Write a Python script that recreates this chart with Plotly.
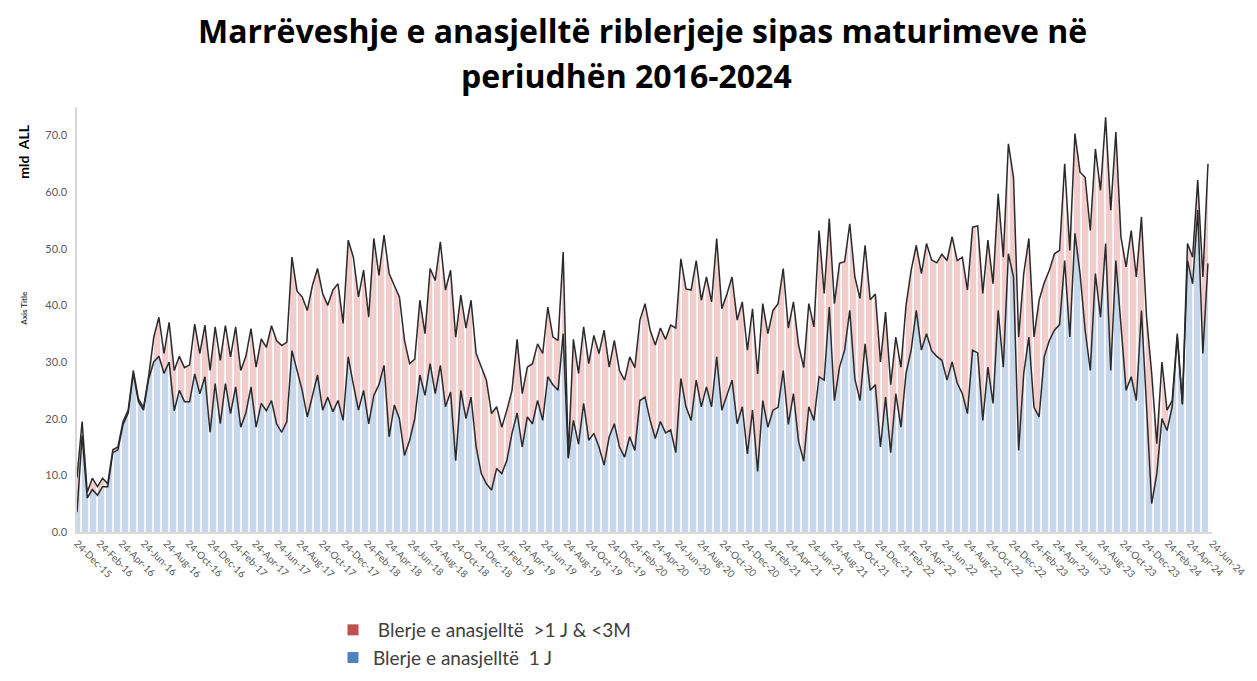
import plotly.graph_objects as go
import pandas as pd

# Biweekly observations starting 24-Dec-2015 (mld ALL)
start_date = "2015-12-24"

blue_1J = [
    3.5, 17.0, 6.0, 7.5, 6.5, 8.0, 8.0, 14.0, 14.5, 19.0,
    21.0, 28.0, 23.0, 21.5, 27.0, 30.0, 31.0, 28.0, 30.0, 21.4,
    25.0, 23.0, 23.0, 27.9, 24.4, 27.4, 17.6, 26.2, 19.1, 26.2,
    20.9, 25.6, 18.5, 21.0, 25.6, 18.5, 22.7, 21.4, 23.2, 19.1,
    17.6, 19.5, 32.0, 28.5, 25.0, 20.3, 24.0, 27.7, 21.5, 23.8,
    21.2, 23.2, 19.7, 30.9, 26.0, 21.5, 25.0, 19.1, 24.1, 26.0,
    29.4, 16.8, 22.4, 20.0, 13.5, 16.2, 20.0, 27.7, 24.1, 29.7,
    24.4, 29.4, 22.1, 24.7, 12.6, 25.0, 20.0, 23.8, 15.0, 10.3,
    8.5, 7.4, 11.2, 10.3, 12.6, 17.4, 21.0, 15.0, 20.3, 19.1,
    23.2, 19.7, 27.4, 26.0, 25.0, 35.0, 13.0, 19.7, 15.5, 22.7,
    16.2, 17.4, 15.0, 11.8, 16.8, 19.1, 15.0, 13.2, 16.8, 14.4,
    23.2, 23.8, 19.7, 16.5, 19.5, 17.5, 18.0, 14.0, 27.1, 22.1,
    19.7, 26.8, 22.1, 25.6, 22.1, 30.9, 21.5, 24.0, 26.8, 19.1,
    22.1, 13.8, 21.5, 10.7, 23.2, 18.5, 21.5, 22.0, 28.5, 19.0,
    24.4, 16.0, 12.5, 22.1, 19.7, 27.4, 26.8, 39.7, 23.2, 29.1,
    32.1, 39.1, 27.0, 23.2, 33.2, 25.0, 26.0, 15.0, 23.8, 14.0,
    24.4, 18.5, 28.0, 32.1, 39.1, 32.1, 35.0, 32.0, 31.0, 30.3,
    26.8, 30.0, 26.3, 24.4, 20.9, 32.1, 31.6, 19.7, 29.1, 22.7,
    39.1, 29.1, 49.1, 45.0, 14.4, 28.0, 34.4, 22.0, 20.3, 30.9,
    33.8, 35.6, 36.6, 47.9, 34.4, 52.7, 45.6, 35.6, 28.5, 45.6,
    37.9, 50.9, 28.5, 47.9, 36.0, 25.0, 27.4, 23.2, 39.1, 21.5,
    5.0, 10.3, 20.0, 17.9, 22.1, 34.5, 22.5, 47.9, 43.8, 56.8,
    31.5, 47.4,
]

red_1J_3M = [
    6.1, 2.5, 1.0, 2.0, 1.5, 1.5, 0.5, 0.5, 0.5, 0.5,
    0.5, 0.5, 0.5, 0.5, 0.5, 4.4, 6.9, 3.5, 7.0, 7.1,
    6.0, 6.0, 6.5, 8.8, 7.1, 9.1, 10.9, 10.0, 11.2, 10.2,
    10.0, 10.6, 10.0, 10.0, 10.3, 10.6, 11.4, 11.2, 13.2, 14.7,
    15.3, 14.0, 16.5, 14.0, 16.5, 18.8, 19.5, 18.8, 20.6, 16.2,
    21.5, 20.6, 17.1, 20.6, 22.5, 20.0, 21.2, 18.8, 27.7, 19.3,
    23.0, 28.8, 21.1, 21.5, 20.3, 13.5, 10.5, 13.2, 10.9, 16.8,
    20.0, 21.8, 20.6, 21.5, 21.8, 16.8, 16.0, 17.1, 16.5, 18.7,
    18.3, 13.5, 10.9, 8.2, 8.9, 7.6, 13.0, 9.4, 8.8, 10.6,
    10.0, 11.8, 12.3, 8.4, 8.8, 14.4, 0.2, 14.3, 12.5, 13.5,
    13.5, 17.3, 16.5, 23.8, 12.3, 14.7, 13.5, 13.6, 14.1, 14.6,
    14.2, 16.5, 15.9, 16.5, 16.5, 16.5, 18.5, 22.0, 21.1, 20.8,
    23.0, 21.1, 18.8, 19.4, 18.5, 20.9, 17.9, 18.0, 18.2, 18.3,
    18.5, 18.3, 17.9, 17.2, 17.1, 16.5, 17.6, 18.3, 18.0, 17.0,
    16.2, 17.0, 16.5, 18.2, 16.5, 25.8, 15.3, 15.6, 17.1, 18.3,
    15.6, 15.3, 18.0, 18.0, 17.4, 16.0, 16.0, 15.0, 15.0, 12.0,
    10.0, 10.6, 12.0, 14.1, 11.5, 13.5, 15.9, 16.0, 16.5, 18.7,
    21.1, 22.1, 21.6, 24.1, 21.8, 21.7, 22.4, 22.4, 22.4, 21.1,
    20.6, 19.4, 19.4, 17.6, 20.0, 17.6, 17.4, 12.4, 20.6, 13.1,
    12.4, 13.5, 13.1, 17.1, 15.3, 17.6, 17.9, 27.0, 24.7, 22.0,
    22.4, 22.3, 28.3, 22.7, 16.0, 21.8, 25.8, 21.8, 16.5, 16.4,
    23.0, 5.3, 10.0, 3.6, 1.1, 0.5, 0.2, 3.0, 4.7, 5.3,
    13.5, 17.6,
]

name_red = " Blerje e anasjelltë  >1 J & <3M"
name_blue = "Blerje e anasjelltë  1 J"
title_line1 = "Marrëveshje e anasjelltë riblerjeje sipas maturimeve në"
title_line2 = "periudhën 2016-2024"

dates = pd.date_range(start=start_date, periods=len(blue_1J), freq="14D")

fig = go.Figure()

fig.add_trace(go.Scatter(
    x=dates, y=blue_1J, stackgroup="one", mode="lines",
    line=dict(color="#2a2a2a", width=1.5),
    fillcolor="#c7d7ec",
    fillpattern=dict(shape="|", size=8, solidity=0.2,
                     fgcolor="#ffffff", bgcolor="#c7d7ec", fillmode="replace"),
    showlegend=False, name=name_blue,
))
fig.add_trace(go.Scatter(
    x=dates, y=red_1J_3M, stackgroup="one", mode="lines",
    line=dict(color="#2a2a2a", width=1.5),
    fillcolor="#f3cccc",
    fillpattern=dict(shape="|", size=8, solidity=0.2,
                     fgcolor="#ffffff", bgcolor="#f3cccc", fillmode="replace"),
    showlegend=False, name=name_red,
))

# legend entries (solid squares as in the original)
fig.add_trace(go.Scatter(x=[None], y=[None], mode="markers", name=name_red,
                         marker=dict(symbol="square", size=11, color="#c0504d")))
fig.add_trace(go.Scatter(x=[None], y=[None], mode="markers", name=name_blue,
                         marker=dict(symbol="square", size=11, color="#4f81bd")))

fig.update_layout(
    width=1257, height=681,
    margin=dict(l=69, r=53, t=99, b=157, autoexpand=False),
    paper_bgcolor="white", plot_bgcolor="white",
    font=dict(family="Lato, Open Sans, sans-serif", color="#595959"),
    showlegend=True,
    legend=dict(x=325 / 1257, y=1 - 603 / 681, xref="container", yref="container",
                xanchor="left", yanchor="top", traceorder="normal",
                orientation="v", font=dict(size=19, color="#404040"),
                tracegroupgap=0, bgcolor="rgba(0,0,0,0)"),
    xaxis=dict(
        type="date", automargin=False,
        range=["2015-12-24", "2024-06-24"],
        tick0="2015-12-24", dtick="M2", tickformat="%d-%b-%y",
        tickangle=45, tickfont=dict(size=10, color="#595959"),
        showgrid=False, zeroline=False,
        showline=True, linecolor="#d9d9d9", linewidth=1.5,
        ticks="",
    ),
    yaxis=dict(
        range=[0, 75], dtick=10, tickformat=".1f", automargin=False,
        tickfont=dict(size=11, color="#595959"), ticklabelstandoff=6,
        showgrid=False, zeroline=False,
        showline=True, linecolor="#d9d9d9", linewidth=1.5,
        ticks="",
    ),
    annotations=[
        dict(text="<b>" + title_line1 + "</b>", xref="paper", yref="paper",
             x=0.498, y=(532 - 30) / 425, xanchor="center", yanchor="middle",
             showarrow=False, font=dict(size=32, color="#000000", family="Open Sans, sans-serif")),
        dict(text="<b>" + title_line2 + "</b>", xref="paper", yref="paper",
             x=0.484, y=(532 - 75) / 425, xanchor="center", yanchor="middle",
             showarrow=False, font=dict(size=32, color="#000000", family="Open Sans, sans-serif")),
        dict(text="<b>mld  ALL</b>", xref="paper", yref="paper",
             x=-0.047, y=(532 - 152) / 425, xanchor="center", yanchor="middle", textangle=-90,
             showarrow=False, font=dict(size=14, color="#000000")),
        dict(text="<b>Axis Title</b>", xref="paper", yref="paper",
             x=-0.047, y=(532 - 308) / 425, xanchor="center", yanchor="middle", textangle=-90,
             showarrow=False, font=dict(size=8, color="#404040")),
    ],
)

fig.write_html("out.html")
